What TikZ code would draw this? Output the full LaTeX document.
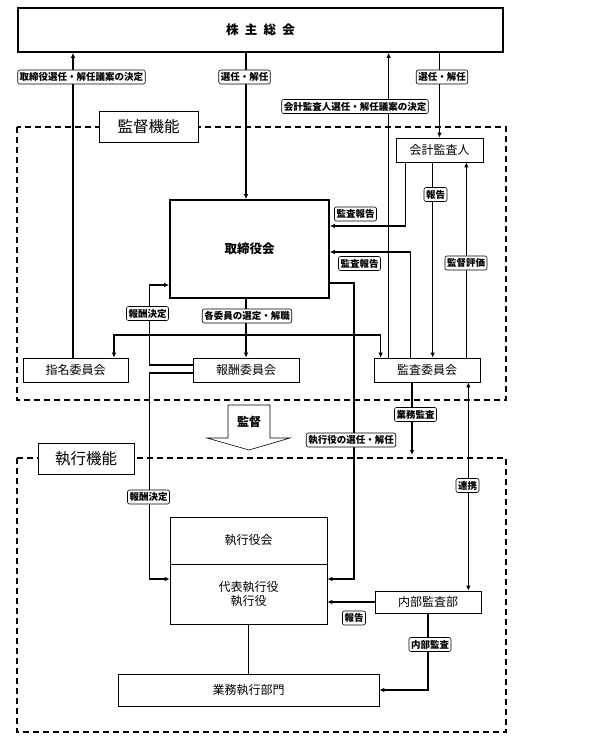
\documentclass[tikz,border=0pt]{standalone}
\usepackage{fontspec}
\setmainfont{Noto Sans CJK JP}
\usetikzlibrary{arrows.meta,positioning}

\begin{document}
\begin{tikzpicture}[x=1pt,y=-1pt,
	box/.style={draw, line width=0.7pt, fill=white, inner sep=0pt, font=\fontsize{12}{14}\selectfont},
	bigbox/.style={box, line width=1.6pt, font=\fontsize{12.5}{14}\selectfont\bfseries},
	title/.style={box, font=\fontsize{15.5}{17}\selectfont},
	tag/.style={draw, line width=0.6pt, rounded corners=2pt, fill=white, inner xsep=2pt, inner ysep=1pt, minimum height=14pt, font=\fontsize{9.5}{11}\selectfont\bfseries},
	area/.style={draw, line width=1.5pt, dash pattern=on 6pt off 4pt},
	link/.style={line width=1.5pt, -{Latex[length=5pt,width=4.5pt]}},
	twoway/.style={line width=1.5pt, {Latex[length=5pt,width=4.5pt]}-{Latex[length=5pt,width=4.5pt]}}]

	\useasboundingbox (0,0) rectangle (590,752);

	% areas
	\draw[area] (17,127) rectangle (506,400);
	\draw[area] (17,458) rectangle (506,732);
	\node[title, minimum width=99pt, minimum height=31pt] (kanshi) at (148.5,126.5) {監督機能};
	\node[title, minimum width=96pt, minimum height=31pt] (shikko) at (86,458.5) {執行機能};

	% boxes
	\node[bigbox, minimum width=485pt, minimum height=44pt] (soukai) at (260.5,30) {株\hspace{0.5em}主\hspace{0.5em}総\hspace{0.5em}会};
	\node[box, minimum width=87pt, minimum height=24pt] (kaikei) at (439.5,150) {会計監査人};
	\node[bigbox, minimum width=159pt, minimum height=98pt] (torishimari) at (249.5,249) {取締役会};
	\node[box, minimum width=105pt, minimum height=24pt] (shimei) at (75.5,370) {指名委員会};
	\node[box, minimum width=106pt, minimum height=24pt] (houshu) at (246,370) {報酬委員会};
	\node[box, minimum width=106pt, minimum height=24pt] (kansaiin) at (427,370) {監査委員会};
	\node[box, minimum width=157pt, minimum height=47pt] (shikkoukai) at (248.5,540.5) {執行役会};
	\node[box, minimum width=157pt, minimum height=60pt, align=center] (daihyo) at (248.5,594) {代表執行役\\執行役};
	\node[box, minimum width=106pt, minimum height=22pt] (naibu) at (428,602) {内部監査部};
	\node[box, minimum width=261pt, minimum height=32pt] (gyoumu) at (248.5,690) {業務執行部門};

	% 監督 arrow
	\draw[line width=0.6pt, fill=white] (228,405) -- (270,405) -- (270,438) -- (290,438) -- (249,450) -- (207,438) -- (228,438) -- cycle;
	\node[font=\fontsize{12}{14}\selectfont\bfseries] (kantoku) at (249,422) {監督};

	% connectors
	\draw[link] ([xshift=-2.5pt]shimei.north) -- ([xshift=-2.5pt]shimei.north |- soukai.south);
	\draw[link] (houshu.north |- soukai.south) -- (houshu.north |- torishimari.north);
	\draw[link] ([xshift=15pt]kansaiin.north west) -- ([xshift=15pt]kansaiin.north west |- soukai.south);
	\draw[link] (kaikei.north |- soukai.south) -- (kaikei.north);
	\draw[link] ([xshift=10pt]kaikei.south west) |- ([yshift=23pt]torishimari.east);
	\draw[link] ([xshift=37pt]kansaiin.north west) |- ([yshift=-3pt]torishimari.east);
	\draw[link] ([xshift=37pt]kaikei.south west) -- ([xshift=37pt]kaikei.south west |- kansaiin.north);
	\draw[link] ([xshift=-14pt]kansaiin.north east) -- ([xshift=-14pt]kansaiin.north east |- kaikei.south);
	\draw[link] ([yshift=5pt]houshu.west) -- ++(-43,0) |- ([yshift=-36pt]torishimari.west);
	\draw[link] (houshu.north |- torishimari.south) -- (houshu.north);
	\coordinate (bar) at (houshu.north |- 0,335);
	\draw[link] (bar) -| ([xshift=38.5pt]shimei.north);
	\draw[link] (bar) -| ([xshift=7pt]kansaiin.north west);
	\draw[link] ([yshift=-34pt]torishimari.east) -- ++(24,0) |- ([yshift=15pt]daihyo.east);
	\draw[link] ([yshift=-3pt]houshu.west) -- ++(-43,0) |- ([yshift=15pt]daihyo.west);
	\coordinate (gyoukan) at (412,455);
	\draw[link] (kansaiin.south -| gyoukan) -- (gyoukan);
	\draw[twoway] ([xshift=-13pt]naibu.north east) -- ([xshift=-13pt]naibu.north east |- kansaiin.south);
	\draw[link] (naibu.west) -- (naibu.west -| daihyo.east);
	\draw[link] (naibu.south) |- (gyoumu.east);
	\draw[line width=0.7pt] (daihyo.south) -- (gyoumu.north);

	% labels
	\node[tag] (l1) at (81.5,77) {取締役選任・解任議案の決定};
	\node[tag] (l2) at (244.5,77) {選任・解任};
	\node[tag] (l3) at (355,106.5) {会計監査人選任・解任議案の決定};
	\node[tag] (l4) at (442,77) {選任・解任};
	\node[tag] (l5) at (355.5,214) {監査報告};
	\node[tag] (l6) at (359.5,263.5) {監査報告};
	\node[tag] (l7) at (435.5,194.5) {報告};
	\node[tag] (l8) at (466,263) {監督評価};
	\node[tag] (l9) at (147.5,313.5) {報酬決定};
	\node[tag] (l10) at (247,316) {各委員の選定・解職};
	\node[tag] (l11) at (415.5,414.5) {業務監査};
	\node[tag] (l12) at (351,440) {執行役の選任・解任};
	\node[tag] (l13) at (148.5,497) {報酬決定};
	\node[tag] (l14) at (467.5,485.5) {連携};
	\node[tag] (l15) at (354,618) {報告};
	\node[tag] (l16) at (430,644.5) {内部監査};
\end{tikzpicture}
\end{document}
